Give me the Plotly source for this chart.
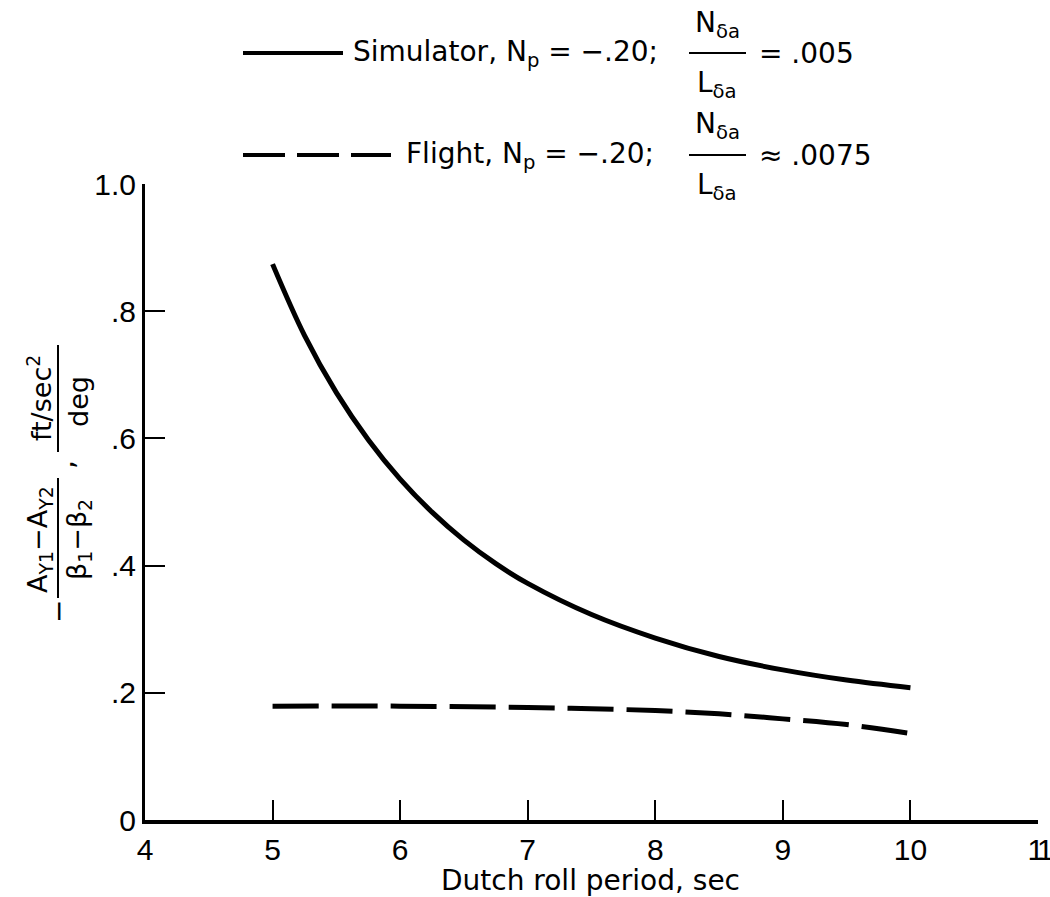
import plotly.graph_objects as go

# ---- data ----
sim_period = [5.0, 5.25, 5.5, 5.75, 6.0, 6.25, 6.5, 6.75, 7.0, 7.5, 8.0, 8.5, 9.0, 9.5, 10.0]
sim_value = [0.874, 0.762, 0.672, 0.598, 0.536, 0.484, 0.440, 0.403, 0.372, 0.323, 0.286, 0.257, 0.236, 0.220, 0.208]

flt_period = [5.0, 6.0, 7.0, 7.5, 8.0, 8.5, 9.0, 9.5, 10.0]
flt_value = [0.179, 0.179, 0.177, 0.175, 0.172, 0.167, 0.159, 0.150, 0.136]

x_ticks = [4, 5, 6, 7, 8, 9, 10, 11]
x_ticktext = ["4", "5", "6", "7", "8", "9", "10",
              "<span style='letter-spacing:-5px'>11</span>"]
y_ticks = [0, 0.2, 0.4, 0.6, 0.8, 1.0]
y_ticktext = ["0", ".2", ".4", ".6", ".8", "1.0"]

# ---- layout geometry ----
W, H = 1050, 897
L, R, T, B = 145, 12, 184, 77
PW, PH = W - L - R, H - T - B
FONT = "DejaVu Sans"
TICKFONT = "Liberation Sans"


def px(x):
    return (x - L) / PW


def py(y):
    return (H - B - y) / PH


fig = go.Figure()
fig.add_trace(go.Scatter(x=sim_period, y=sim_value, mode="lines",
                         line=dict(color="black", width=5, shape="spline", smoothing=1.0),
                         showlegend=False))
fig.add_trace(go.Scatter(x=flt_period, y=flt_value, mode="lines",
                         line=dict(color="black", width=5, dash="46px,13px", shape="spline"),
                         showlegend=False))

ann = []
shapes = []


def text(x, y, s, size=28, anchor="center", angle=0):
    ann.append(dict(x=px(x), y=py(y), xref="paper", yref="paper", text=s, showarrow=False,
                    xanchor=anchor, yanchor="middle", textangle=angle,
                    font=dict(family=FONT, size=size, color="black")))


def hline(x0, x1, y, w=3, dash=None):
    shapes.append(dict(type="line", xref="paper", yref="paper", x0=px(x0), x1=px(x1),
                       y0=py(y), y1=py(y), line=dict(color="black", width=w, dash=dash)))


def vline(x, y0, y1, w=2):
    shapes.append(dict(type="line", xref="paper", yref="paper", x0=px(x), x1=px(x),
                       y0=py(y0), y1=py(y1), line=dict(color="black", width=w)))


# legend row 1
hline(243, 343, 53, w=4)
text(351, 53, "Simulator, N<sub>p</sub> = −.20;", anchor="left")
text(717, 24, "N<sub>δa</sub>")
hline(689, 746, 53, w=2)
text(717, 84, "L<sub>δa</sub>")
text(757, 53, "= .005", anchor="left")

# legend row 2
hline(243, 391, 155, w=4, dash="42px,12px")
text(404, 155, "Flight, N<sub>p</sub> = −.20;", anchor="left")
text(717, 126, "N<sub>δa</sub>")
hline(689, 746, 155, w=2)
text(717, 186, "L<sub>δa</sub>")
text(757, 155, "≈ .0075", anchor="left")

# y-axis title (rotated)
text(58, 612, "−", size=28, angle=-90)
text(39, 540, "A<sub>Y1</sub>−A<sub>Y2</sub>", size=27, angle=-90)
vline(58, 478, 598)
text(78, 540, "β<sub>1</sub>−β<sub>2</sub>", size=27, angle=-90)
text(64, 465, ",", size=28, angle=-90)
text(39, 398, "ft/sec<sup>2</sup>", size=27, angle=-90)
vline(58, 345, 452)
text(78, 402, "deg", size=27, angle=-90)

# x-axis title
text(590, 880, "Dutch roll period, sec", size=28)

fig.update_layout(
    width=W, height=H,
    margin=dict(l=L, r=R, t=T, b=B, autoexpand=False),
    paper_bgcolor="white", plot_bgcolor="white",
    annotations=ann, shapes=shapes,
    xaxis=dict(range=[4, 11], tickvals=x_ticks, ticktext=x_ticktext, automargin=False,
               showgrid=False, zeroline=False, showline=True, linecolor="black", linewidth=4,
               ticks="inside", ticklen=20, tickwidth=2, tickcolor="black",
               ticklabeloverflow="allow",
               tickfont=dict(family=TICKFONT, size=30, color="black")),
    yaxis=dict(range=[0, 1], tickvals=y_ticks, ticktext=y_ticktext, automargin=False,
               showgrid=False, zeroline=False, showline=True, linecolor="black", linewidth=3,
               ticks="inside", ticklen=20, tickwidth=2, tickcolor="black",
               tickfont=dict(family=TICKFONT, size=30, color="black")),
)

fig.write_html("out.html")
